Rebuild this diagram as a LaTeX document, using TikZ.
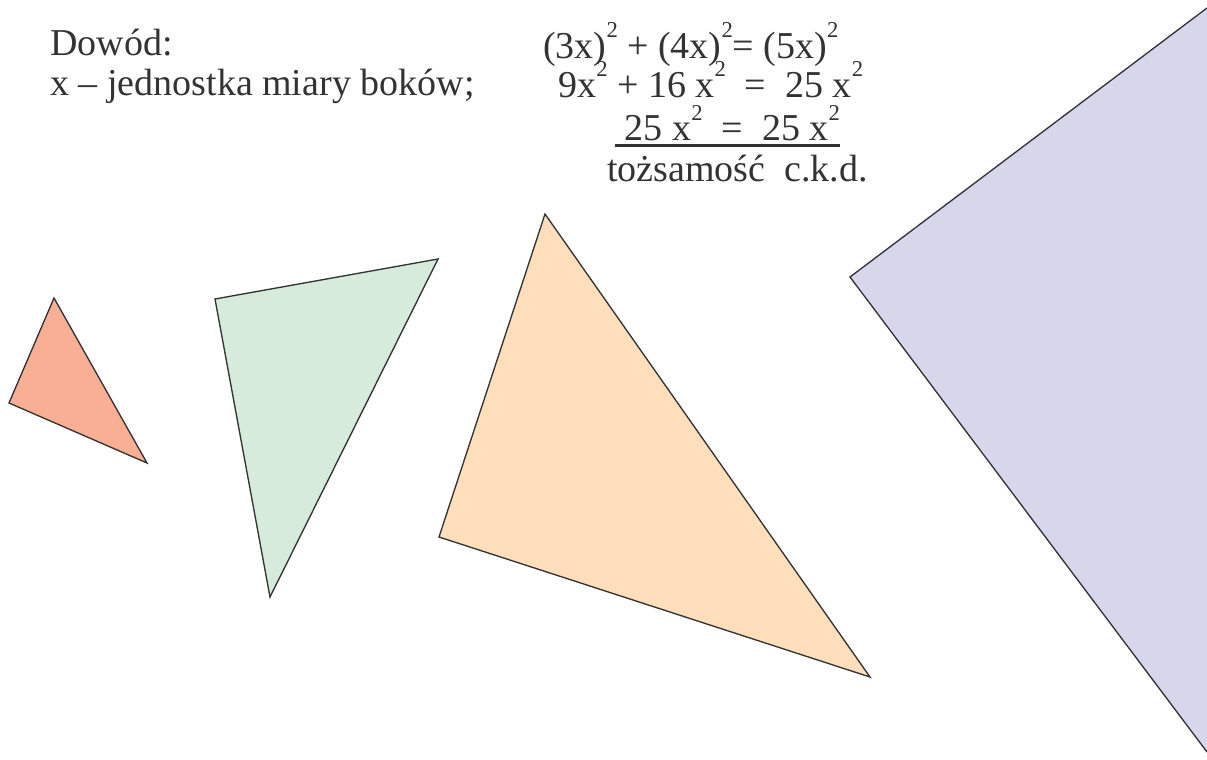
\documentclass[tikz,border=0pt]{standalone}
\usepackage{fontspec}
\setmainfont{Liberation Serif}
\usepackage{tikz}
\usetikzlibrary{positioning}

\definecolor{merah}{HTML}{F9AF94}
\definecolor{hijau}{HTML}{D6EBDC}
\definecolor{oranye}{HTML}{FEDEBB}
\definecolor{ungu}{HTML}{D8D6EB}
\definecolor{tinta}{HTML}{333333}

\newcommand{\kwadrat}{\raisebox{0.53em}{\fontsize{17}{17}\selectfont 2}}

\begin{document}
\begin{tikzpicture}[
      x=0.75pt, y=-0.75pt,
      font=\fontsize{28.5}{34}\selectfont,
      tulisan/.style={anchor=base west, inner sep=0pt, text=tinta},
      segitiga/.style={draw=tinta, line width=1pt, line join=miter}
    ]
    \useasboundingbox (0,0) rectangle (1207,760);

    % tekst dowodu
    \node[tulisan] (dowod) at (50,55.5) {Dowód:};
    \node[tulisan] (jednostka) at (50,95) {x -- jednostka miary boków;};
    \node[tulisan] (rownanie) at (543,58)
    {(3x)\kwadrat{} + (4x)\kwadrat{}= (5x)\kwadrat};
    \node[tulisan] (rozwiniecie) at (558,97)
    {9x\kwadrat{} + 16 x\kwadrat{} ~=~ 25 x\kwadrat};
    \node[tulisan] (wynik) at (615,140.5)
    {\ 25 x\kwadrat{} ~=~ 25 x\kwadrat};
    \node[tulisan] (wniosek) at (607,181.5) {tożsamość~ c.k.d.};
    \draw[tinta, line width=1.7pt]
      ([yshift=-3.75pt]wynik.base west) -- ([yshift=-3.75pt]wynik.base east);

    % trojkaty
    \fill[merah, segitiga] (54,298) -- (9,403) -- (147,463) -- cycle;
    \fill[hijau, segitiga] (215,299) -- (438,259) -- (270,597) -- cycle;
    \fill[oranye, segitiga] (545,214) -- (439,537) -- (870,677) -- cycle;

    % kwadrat
    \fill[ungu] (850,277) -- (1207,8) -- (1207,752) -- cycle;
    \draw[segitiga] (1207,8) -- (850,277) -- (1207,752);
  \end{tikzpicture}
\end{document}
